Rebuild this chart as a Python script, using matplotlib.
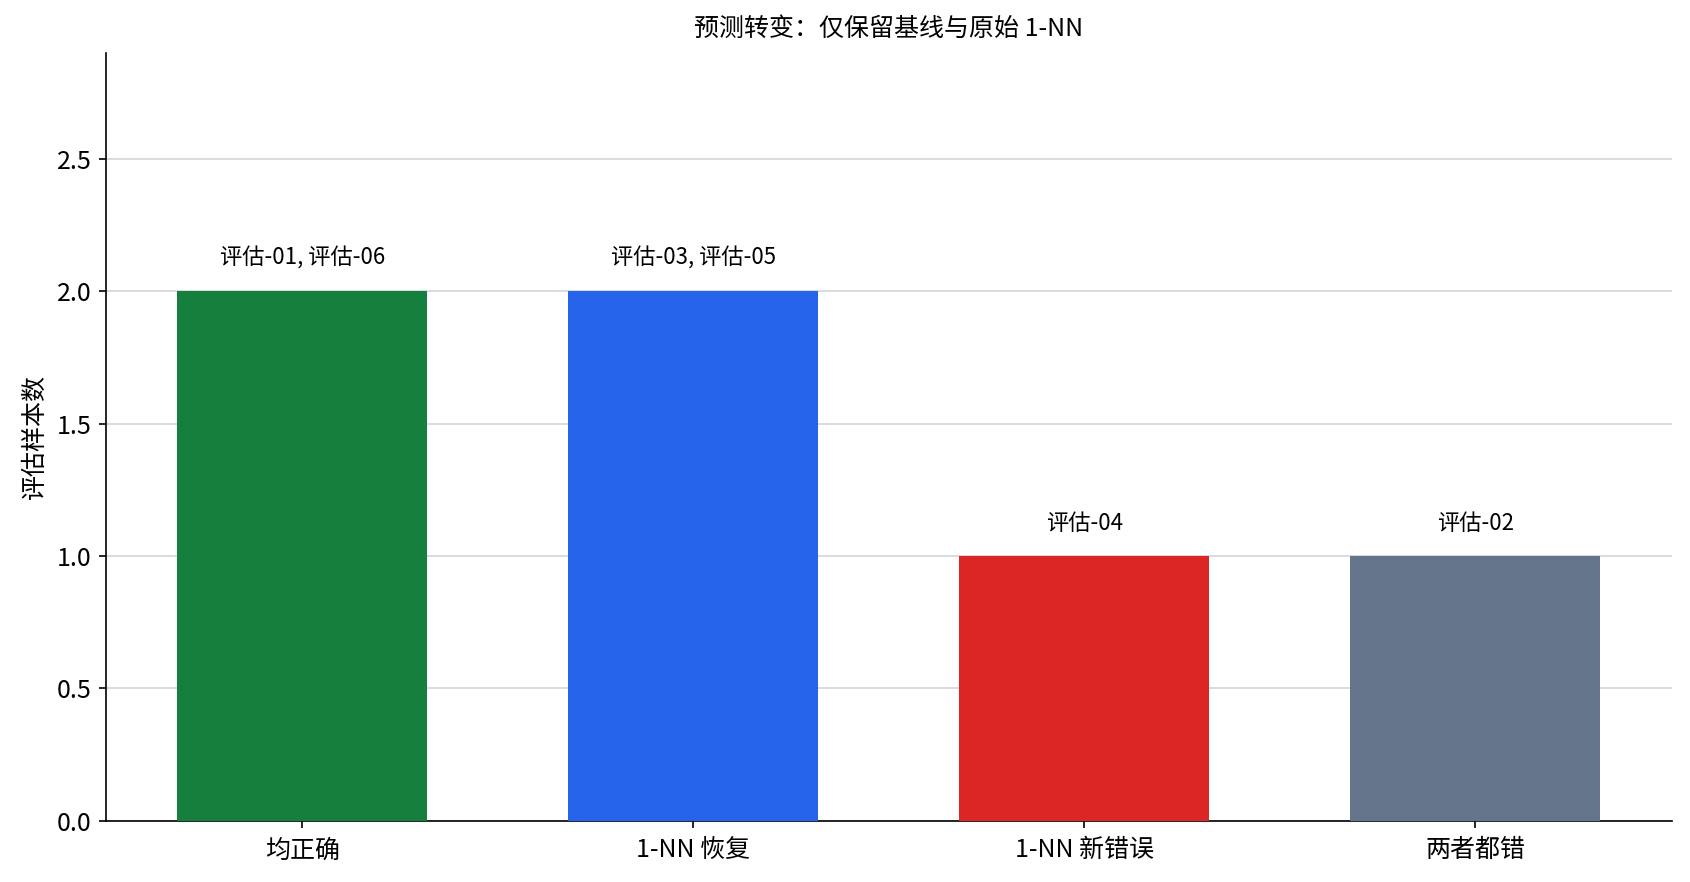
import matplotlib
matplotlib.use("Agg")
import matplotlib.pyplot as plt

plt.rcParams['font.family'] = ['Noto Sans CJK SC', 'DejaVu Sans']

categories = ["均正确", "1-NN 恢复", "1-NN 新错误", "两者都错"]
counts = [2, 2, 1, 1]
sample_labels = ["评估-01, 评估-06", "评估-03, 评估-05", "评估-04", "评估-02"]
colors = ["#15803d", "#2563eb", "#dc2626", "#64748b"]

fig, ax = plt.subplots(figsize=(11.273, 5.88), dpi=150)
bars = ax.bar(categories, counts, width=0.64, color=colors, zorder=3)

# sample ids above each bar
for bar, lab in zip(bars, sample_labels):
    ax.text(bar.get_x() + bar.get_width() / 2, bar.get_height() + 0.08, lab,
            ha="center", va="bottom", fontsize=10.7)

ax.set_ylim(0, 2.9)
ax.set_ylabel("评估样本数", fontsize=12)
ax.set_title("预测转变：仅保留基线与原始 1-NN", fontsize=12, pad=8)
ax.tick_params(axis="both", labelsize=12)
ax.tick_params(axis="x", pad=4.5)
ax.grid(axis="y", color="#d1d5db", linewidth=0.8, zorder=0)
ax.spines["top"].set_visible(False)
ax.spines["right"].set_visible(False)

plt.subplots_adjust(left=0.0627, right=0.9885, top=0.94, bottom=0.0695)
plt.savefig("out.png")
